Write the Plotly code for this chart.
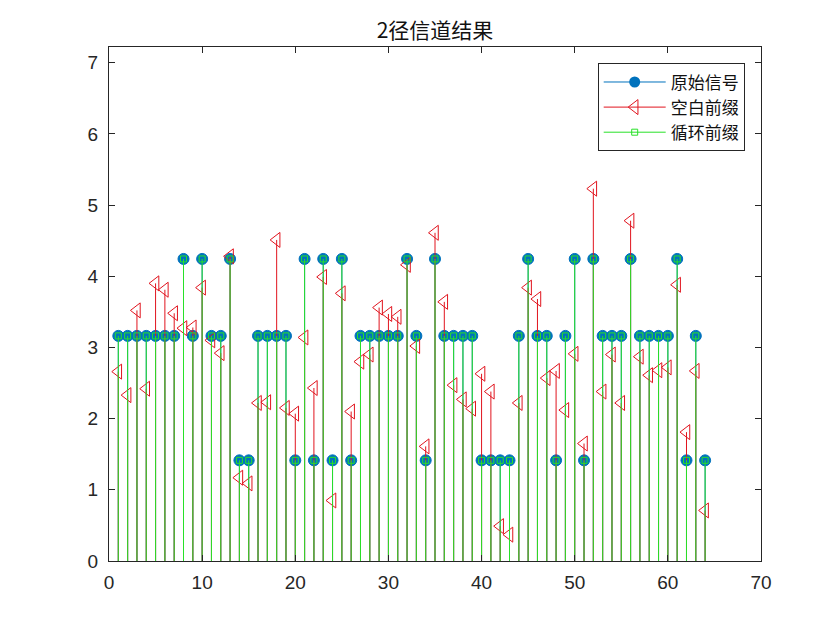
import plotly.graph_objects as go

n = list(range(1, 65))

original = [3.162, 3.162, 3.162, 3.162, 3.162, 3.162, 3.162, 4.243, 3.162, 4.243,
            3.162, 3.162, 4.243, 1.414, 1.414, 3.162, 3.162, 3.162, 3.162, 1.414,
            4.243, 1.414, 4.243, 1.414, 4.243, 1.414, 3.162, 3.162, 3.162, 3.162,
            3.162, 4.243, 3.162, 1.414, 4.243, 3.162, 3.162, 3.162, 3.162, 1.414,
            1.414, 1.414, 1.414, 3.162, 4.243, 3.162, 3.162, 1.414, 3.162, 4.243,
            1.414, 4.243, 3.162, 3.162, 3.162, 4.243, 3.162, 3.162, 3.162, 3.162,
            4.243, 1.414, 3.162, 1.414]

blank_prefix = [2.66, 2.33, 3.52, 2.42, 3.90, 3.81, 3.48, 3.27, 3.28, 3.84,
                3.10, 2.92, 4.28, 1.17, 1.09, 2.22, 2.23, 4.51, 2.15, 2.07,
                3.14, 2.43, 3.99, 0.85, 3.76, 2.10, 2.80, 2.90, 3.56, 3.47,
                3.43, 4.16, 3.02, 1.61, 4.61, 3.64, 2.47, 2.27, 2.14, 2.63,
                2.38, 0.49, 0.37, 2.22, 3.84, 3.68, 2.57, 2.67, 2.12, 2.91,
                1.65, 5.23, 2.38, 2.90, 2.22, 4.78, 2.87, 2.61, 2.68, 2.72,
                3.88, 1.81, 2.67, 0.71]

cyclic_prefix = list(original)

names = ["原始信号", "空白前缀", "循环前缀"]

BLUE = "#0072BD"
RED = "rgb(225,20,30)"
GREEN = "rgb(40,225,40)"

fig = go.Figure()


def stems(xs, ys):
    sx, sy = [], []
    for x, y in zip(xs, ys):
        sx += [x, x, None]
        sy += [0, y, None]
    return sx, sy


def add_stem(xs, ys, color, symbol, size, name, lw=1):
    sx, sy = stems(xs, ys)
    fig.add_trace(go.Scatter(x=sx, y=sy, mode="lines", line=dict(color=color, width=lw),
                             showlegend=False, hoverinfo="skip"))
    fig.add_trace(go.Scatter(x=xs, y=ys, mode="markers",
                             marker=dict(symbol=symbol, size=size, color=color,
                                         line=dict(color=color, width=1)),
                             showlegend=False, name=name))


add_stem(n, original, BLUE, "circle", 11, names[0])
add_stem(n, blank_prefix, RED, "triangle-left-open", 13, names[1])
add_stem(n, cyclic_prefix, GREEN, "square-open", 6, names[2])

# legend entries
fig.add_trace(go.Scatter(x=[None], y=[None], mode="lines+markers", name=names[0],
                         line=dict(color=BLUE, width=1),
                         marker=dict(symbol="circle", size=11, color=BLUE)))
fig.add_trace(go.Scatter(x=[None], y=[None], mode="lines+markers", name=names[1],
                         line=dict(color=RED, width=1),
                         marker=dict(symbol="triangle-left-open", size=13, color=RED,
                                     line=dict(color=RED, width=1))))
fig.add_trace(go.Scatter(x=[None], y=[None], mode="lines+markers", name=names[2],
                         line=dict(color=GREEN, width=1),
                         marker=dict(symbol="square-open", size=6, color=GREEN,
                                     line=dict(color=GREEN, width=1))))

axis_common = dict(showgrid=False, zeroline=False, showline=True, linecolor="#262626",
                   linewidth=1, mirror="ticks", ticks="inside", ticklen=6,
                   tickcolor="#262626", tickfont=dict(family="Liberation Sans", size=19, color="#262626"))

fig.update_xaxes(range=[0, 70], tickvals=list(range(0, 71, 10)), ticklabelstandoff=4, **axis_common)
fig.update_yaxes(range=[0, 7.22], tickvals=list(range(0, 8)), ticklabelstandoff=6, **axis_common)

fig.update_layout(
    width=840, height=630,
    margin=dict(l=109, r=79, t=47, b=69),
    paper_bgcolor="white", plot_bgcolor="white",
    title=dict(text="2径信道结果", x=0.5, xanchor="center", xref="paper",
               y=1 - 31 / 630, yanchor="middle",
               font=dict(family="Noto Sans CJK SC", size=21, color="#111111")),
    legend=dict(x=0.975, xanchor="right", y=0.968, yanchor="top",
                bgcolor="white", bordercolor="#262626", borderwidth=1,
                font=dict(family="Noto Sans CJK SC", size=17, color="#111111"),
                itemwidth=62, tracegroupgap=0),
    showlegend=True,
)

fig.write_html("out.html")
